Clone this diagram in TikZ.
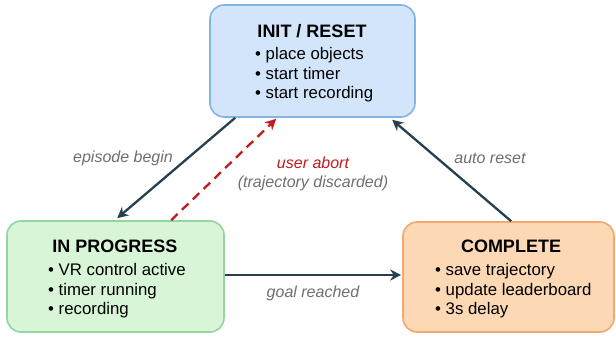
\documentclass[tikz,border=0pt]{standalone}
\usepackage{fontspec}
\setmainfont{Liberation Sans}
\usetikzlibrary{arrows.meta,calc}
\definecolor{initfill}{HTML}{D3E5FB}
\definecolor{initline}{HTML}{84B4E6}
\definecolor{progfill}{HTML}{D8F5D8}
\definecolor{progline}{HTML}{93D6A1}
\definecolor{compfill}{HTML}{FDD8B5}
\definecolor{compline}{HTML}{F2A870}
\definecolor{edge}{HTML}{27404F}
\definecolor{abort}{HTML}{C41A1C}
\definecolor{note}{HTML}{6F6F6F}
\tikzset{
  statebox/.style={draw, line width=1.6pt, rounded corners=14pt, inner sep=0pt},
  title/.style={font=\fontsize{18}{20}\selectfont\bfseries, text=black},
  items/.style={font=\fontsize{16.8}{19.5}\selectfont, align=left, anchor=west, inner sep=0pt, text=black},
  trans/.style={draw=edge, line width=2.3pt, -{Stealth[length=11pt,width=11pt]}},
  abortedge/.style={draw=abort, line width=2.3pt, dash pattern=on 9pt off 6pt, -{Stealth[length=11pt,width=11pt]}},
  lbl/.style={font=\fontsize{16}{18}\selectfont\itshape, text=note},
}
\begin{document}
\begin{tikzpicture}[x=1pt, y=-1pt]
  \useasboundingbox[fill=white] (0,0) rectangle (616,339);

  % states
  \node[statebox, fill=initfill, draw=initline, minimum width=205pt, minimum height=112pt] (init) at (312.5,61) {};
  \node[statebox, fill=progfill, draw=progline, minimum width=217pt, minimum height=111pt] (prog) at (115.5,276.5) {};
  \node[statebox, fill=compfill, draw=compline, minimum width=211pt, minimum height=110pt] (comp) at (508.5,277) {};

  % state contents
  \node[title] (initT) at (312,31) {INIT / RESET};
  \node[items] (initL) at (255,75) {\textbullet\ place objects\\\textbullet\ start timer\\\textbullet\ start recording};
  \node[title] (progT) at (115,246) {IN PROGRESS};
  \node[items] (progL) at (48,291) {\textbullet\ VR control active\\\textbullet\ timer running\\\textbullet\ recording};
  \node[title] (compT) at (511,246) {COMPLETE};
  \node[items] (compL) at (435,291) {\textbullet\ save trajectory\\\textbullet\ update leaderboard\\\textbullet\ 3s delay};

  % transitions
  \draw[trans] ([xshift=26pt]init.south west) -- ([xshift=111pt,yshift=2pt]prog.north west);
  \draw[abortedge] ([xshift=165pt]prog.north west) -- ([xshift=67pt,yshift=-1pt]init.south west);
  \draw[trans] ([xshift=109pt]comp.north west) -- ([xshift=183pt,yshift=-2pt]init.south west);
  \draw[trans] ([yshift=1.5pt]prog.east) -- ([yshift=2pt,xshift=-1pt]comp.west);

  % transition labels
  \node[lbl] (lEp) at (123,158) {episode begin};
  \node[lbl, text=abort] (lAb) at (313,163) {user abort};
  \node[lbl] (lDis) at (313,183) {(trajectory discarded)};
  \node[lbl] (lAuto) at (490,158) {auto reset};
  \node[lbl] (lGoal) at (313,293) {goal reached};
\end{tikzpicture}
\end{document}
